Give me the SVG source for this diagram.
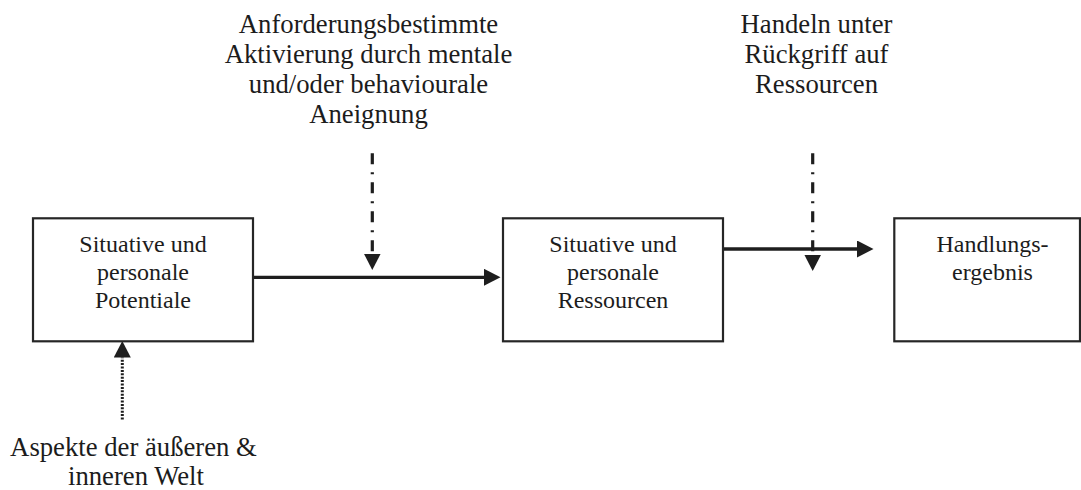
<svg xmlns="http://www.w3.org/2000/svg" width="1081" height="490" viewBox="0 0 1081 490">
  <style>
    .box { fill: #ffffff; stroke: #262626; stroke-width: 2.2; }
    .lbl { font-family: "Liberation Serif", "Times New Roman", serif; fill: #1c1c1c; text-anchor: middle; }
    .in { font-size: 24px; }
    .out { font-size: 26.7px; }
    .solid { fill: none; stroke: #1e1e1e; stroke-width: 3.3; }
    .dashdot { fill: none; stroke: #1e1e1e; stroke-width: 3.2; stroke-dasharray: 11 8 2 8; }
    .dotted { fill: none; stroke: #1e1e1e; stroke-width: 3; stroke-dasharray: 2 1.4; }
  </style>
  <defs>
    <marker id="head" markerUnits="userSpaceOnUse" markerWidth="17" markerHeight="17" refX="0" refY="8.5" orient="auto">
      <path d="M0,0 L16.5,8.5 L0,17 Z" fill="#1e1e1e"/>
    </marker>
  </defs>

  <rect width="1081" height="490" fill="#ffffff"/>

  <!-- free-standing labels -->
  <g id="label-aktivierung" class="lbl out">
    <text x="368.5" y="33">Anforderungsbestimmte</text>
    <text x="368.5" y="63">Aktivierung durch mentale</text>
    <text x="368.5" y="93">und/oder behaviourale</text>
    <text x="368.5" y="123">Aneignung</text>
  </g>
  <g id="label-handeln" class="lbl out">
    <text x="816.5" y="33">Handeln unter</text>
    <text x="816.5" y="63">Rückgriff auf</text>
    <text x="816.5" y="93">Ressourcen</text>
  </g>
  <g id="label-welt" class="lbl out">
    <text x="133.5" y="455.5">Aspekte der äußeren &amp;</text>
    <text x="136" y="485">inneren Welt</text>
  </g>

  <!-- connectors -->
  <g id="connectors">
    <path class="solid" d="M253,277.3 H484" marker-end="url(#head)"/>
    <path class="solid" d="M723,249 H857" marker-end="url(#head)"/>
    <path class="dashdot" d="M372.3,153.3 V253.5" marker-end="url(#head)"/>
    <path class="dashdot" d="M812.7,153.3 V254.5" marker-end="url(#head)"/>
    <path class="dotted" d="M122.3,419.5 V357.5" marker-end="url(#head)"/>
  </g>

  <!-- nodes -->
  <g id="node-potentiale">
    <rect class="box" x="33" y="218.3" width="220" height="123"/>
    <g class="lbl in">
      <text x="143" y="252.3">Situative und</text>
      <text x="143" y="280">personale</text>
      <text x="143" y="308.3">Potentiale</text>
    </g>
  </g>
  <g id="node-ressourcen">
    <rect class="box" x="503" y="218.3" width="220" height="123"/>
    <g class="lbl in">
      <text x="613" y="252.3">Situative und</text>
      <text x="613" y="280">personale</text>
      <text x="613" y="308.3">Ressourcen</text>
    </g>
  </g>
  <g id="node-ergebnis">
    <rect class="box" x="894.3" y="218.3" width="185.7" height="123"/>
    <g class="lbl in">
      <text x="992.5" y="252.3">Handlungs-</text>
      <text x="992.5" y="280">ergebnis</text>
    </g>
  </g>
</svg>
